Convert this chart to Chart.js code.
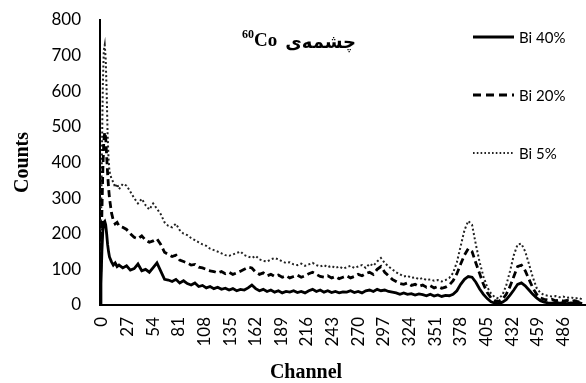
<!DOCTYPE html>
<html>
<head>
<meta charset="utf-8">
<script src="https://cdn.jsdelivr.net/npm/chart.js@4.4.1/dist/chart.umd.min.js"></script>
<style>
html,body{margin:0;padding:0;background:#fff;}
#wrap{width:586px;height:383px;position:relative;}
</style>
</head>
<body>
<div id="wrap"><canvas id="c" width="586" height="383"></canvas></div>
<script>
const TITLE_TEXT = "چشمه‌ی";
const TITLE_ISOTOPE = "Co";
const TITLE_MASS = "60";
const X_TITLE = "Channel";
const Y_TITLE = "Counts";
const SERIES_LABELS = ["Bi 40%", "Bi 20%", "Bi 5%"];
const X_TICKS = [0,27,54,81,108,135,162,189,216,243,270,297,324,351,378,405,432,459,486];
const Y_TICKS = [0,100,200,300,400,500,600,700,800];

const CHANNELS = [0,1,2,3,4,5,6,7,8,9,10,12,14,16,18,
20,24,28,32,36,40,44,48,52,56,
60,64,68,72,76,80,84,88,92,96,
100,104,108,112,116,120,124,128,132,136,
140,144,148,152,156,160,164,168,172,176,
180,184,188,192,196,200,204,208,212,216,
220,224,228,232,236,240,244,248,252,256,
260,264,268,272,276,280,284,288,292,296,
300,304,308,312,316,320,324,328,332,336,
340,344,348,352,356,360,364,368,372,376,
380,384,388,392,396,400,404,408,412,416,
420,424,428,432,436,440,444,448,452,456,
460,464,468,472,476,480,484,488,492,496,
500,504,508];

const BI40 = [0,60,150,210,232,235,225,200,170,150,135,
122,112,118,108,
112,104,110,98,102,115,96,100,92,105,
118,95,72,70,66,72,62,68,60,56,
62,52,55,48,52,46,50,44,47,42,
46,40,44,42,48,56,46,40,44,38,
42,36,40,34,38,36,40,35,38,34,
40,44,38,42,36,40,35,38,34,37,
36,40,35,38,34,40,42,38,44,40,
42,38,36,34,30,34,30,32,28,31,
29,26,30,25,28,24,27,26,30,40,
58,72,80,78,64,45,30,18,9,5,
4,8,15,28,42,58,62,54,42,30,
20,12,8,6,5,7,5,6,4,6,
5,7,4];

const BI20 = [0,120,260,380,460,485,470,420,370,330,300,
260,238,228,232,
222,218,212,200,190,186,194,182,176,180,
186,170,148,142,136,140,126,122,118,112,
114,106,104,100,96,94,90,94,88,92,
86,90,95,100,106,104,92,86,90,82,
86,80,84,78,82,76,80,84,78,82,
88,92,86,80,78,82,76,80,74,78,
82,76,80,86,82,88,92,86,100,108,
92,82,72,66,60,58,62,55,58,52,
56,50,54,48,52,47,50,56,68,88,
115,140,158,150,118,88,58,35,20,12,
10,16,30,52,80,108,112,96,72,48,
30,20,16,14,16,12,14,11,13,10,
12,9,10];

const BI5 = [0,200,420,620,715,730,690,600,480,410,375,
355,345,330,340,
325,340,335,318,300,285,298,280,268,285,
270,255,232,222,218,228,210,200,196,188,
182,176,170,166,158,154,150,145,140,138,
142,146,150,140,136,132,138,128,124,122,
128,132,128,122,118,120,114,112,116,110,
114,118,112,108,112,106,110,104,108,102,
106,110,104,108,112,104,116,110,122,132,
118,108,100,92,86,80,82,76,78,72,
76,70,72,68,70,66,70,76,90,120,
165,210,236,225,170,120,80,50,32,22,
18,28,55,95,140,170,172,150,115,78,
48,34,28,26,24,25,22,24,20,22,
18,20,16];

const toXY = arr => CHANNELS.map((c, i) => ({x: c, y: arr[i]}));

const overlayPlugin = {
  id: 'overlay',
  afterDraw(chart) {
    const ctx = chart.ctx;
    ctx.save();
    // Title
    ctx.fillStyle = '#000';
    ctx.textBaseline = 'alphabetic';
    ctx.direction = 'rtl';
    ctx.textAlign = 'right';
    ctx.font = "bold 18px 'Liberation Serif', 'DejaVu Sans', serif";
    const arW = ctx.measureText(TITLE_TEXT).width;
    ctx.fillText(TITLE_TEXT, 356, 48);
    ctx.direction = 'ltr';
    ctx.textAlign = 'right';
    const coRight = 356 - arW - 8;
    ctx.font = "bold 19px 'Liberation Serif', serif";
    ctx.fillText(TITLE_ISOTOPE, coRight, 46);
    const coW = ctx.measureText(TITLE_ISOTOPE).width;
    ctx.font = "bold 12px 'Liberation Serif', serif";
    ctx.fillText(TITLE_MASS, coRight - coW, 38);
    // X axis title
    ctx.textAlign = 'center';
    ctx.textBaseline = 'middle';
    ctx.font = "bold 20px 'Liberation Serif', serif";
    ctx.fillText(X_TITLE, 306, 373);
    // Legend
    const ys = [37, 95, 153];
    chart.data.datasets.forEach((ds, i) => {
      const y = ys[i];
      ctx.beginPath();
      ctx.strokeStyle = ds.borderColor;
      ctx.lineWidth = ds.borderWidth;
      ctx.setLineDash(ds.legendDash || ds.borderDash || []);
      ctx.moveTo(473, y);
      ctx.lineTo(514, y);
      ctx.stroke();
      ctx.setLineDash([]);
      ctx.fillStyle = '#000';
      ctx.textAlign = 'left';
      ctx.textBaseline = 'middle';
      ctx.font = "15px Lato, 'Open Sans', sans-serif";
      ctx.fillText(ds.label, 519, y + 1);
    });
    ctx.restore();
  }
};

new Chart(document.getElementById('c'), {
  type: 'line',
  data: {
    datasets: [
      {label: SERIES_LABELS[0], data: toXY(BI40), borderColor: '#000', borderWidth: 2.8, pointRadius: 0, tension: 0},
      {label: SERIES_LABELS[1], data: toXY(BI20), borderColor: '#000', borderWidth: 2.8, borderDash: [7, 4], legendDash: [8, 5], pointRadius: 0, tension: 0},
      {label: SERIES_LABELS[2], data: toXY(BI5), borderColor: '#222', borderWidth: 2, borderDash: [2, 2.4], legendDash: [1.6, 2.2], pointRadius: 0, tension: 0}
    ]
  },
  options: {
    responsive: false,
    animation: false,
    layout: {padding: {top: 20, right: 1, left: 0, bottom: 0}},
    plugins: {legend: {display: false}, tooltip: {enabled: false}},
    scales: {
      x: {
        type: 'linear',
        min: 0,
        max: 511,
        bounds: 'data',
        afterBuildTicks: s => { s.ticks = X_TICKS.map(v => ({value: v})); },
        afterFit: s => { s.height = 78; s.paddingLeft = 0; s.paddingRight = 0; },
        grid: {display: false, drawTicks: false},
        border: {display: true, color: '#000', width: 2},
        ticks: {autoSkip: false, minRotation: 90, maxRotation: 90, padding: 12, labelOffset: 2, color: '#000',
                font: {family: "Lato, 'Open Sans', sans-serif", size: 17}},
        title: {display: false}
      },
      y: {
        type: 'linear',
        min: 0,
        max: 800,
        afterBuildTicks: s => { s.ticks = Y_TICKS.map(v => ({value: v})); },
        afterFit: s => { s.width = 100; s.paddingTop = 0; s.paddingBottom = 0; },
        grid: {display: false, drawTicks: false},
        border: {display: true, color: '#000', width: 2},
        ticks: {padding: 19, color: '#000', font: {family: "Lato, 'Open Sans', sans-serif", size: 17}},
        title: {display: true, text: Y_TITLE, color: '#000', padding: {top: 13, bottom: 0},
                font: {family: "'Liberation Serif', serif", size: 20, weight: 'bold', lineHeight: 1}}
      }
    }
  },
  plugins: [overlayPlugin]
});
</script>
</body>
</html>
